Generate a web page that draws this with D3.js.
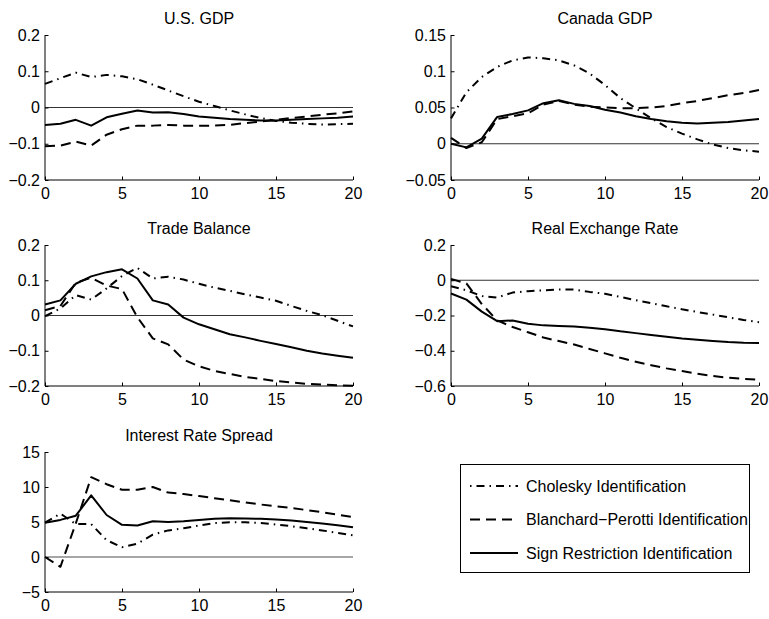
<!DOCTYPE html>
<html>
<head>
<meta charset="utf-8">
<script src="https://cdn.jsdelivr.net/npm/d3@7"></script>
<style>
  html, body { margin: 0; padding: 0; background: #fff; }
  svg text { font-family: "Liberation Sans", Arial, Helvetica, sans-serif; fill: #000; }
</style>
</head>
<body>
<svg id="chart" width="769" height="619"></svg>
<script>
// Impulse responses over a 20-quarter horizon, three identification schemes
const horizon = d3.range(0, 21);
const xTicks = [0, 5, 10, 15, 20];

const seriesNames = ["Cholesky Identification", "Blanchard\u2212Perotti Identification", "Sign Restriction Identification"];

// U.S. GDP
const usTitle = "U.S. GDP";
const usTicks = [-0.2, -0.1, 0, 0.1, 0.2];
const usCholesky  = [0.065, 0.081, 0.096, 0.084, 0.090, 0.086, 0.078, 0.063, 0.047, 0.031, 0.016, 0.004, -0.008, -0.019, -0.029, -0.037, -0.042, -0.045, -0.047, -0.046, -0.045];
const usBlanchard = [-0.107, -0.105, -0.094, -0.105, -0.075, -0.060, -0.050, -0.050, -0.048, -0.050, -0.050, -0.050, -0.048, -0.043, -0.039, -0.034, -0.029, -0.025, -0.020, -0.016, -0.011];
const usSign      = [-0.048, -0.045, -0.034, -0.050, -0.027, -0.017, -0.008, -0.014, -0.013, -0.018, -0.025, -0.028, -0.032, -0.034, -0.036, -0.036, -0.034, -0.032, -0.030, -0.028, -0.025];

// Canada GDP
const caTitle = "Canada GDP";
const caTicks = [-0.05, 0, 0.05, 0.1, 0.15];
const caCholesky  = [0.035, 0.071, 0.092, 0.106, 0.115, 0.119, 0.118, 0.115, 0.108, 0.097, 0.081, 0.063, 0.049, 0.035, 0.023, 0.014, 0.006, -0.001, -0.006, -0.009, -0.011];
const caBlanchard = [0.008, -0.006, 0.002, 0.034, 0.038, 0.042, 0.054, 0.059, 0.054, 0.051, 0.050, 0.049, 0.049, 0.050, 0.052, 0.056, 0.059, 0.063, 0.067, 0.070, 0.074];
const caSign      = [0.000, -0.005, 0.007, 0.037, 0.041, 0.046, 0.056, 0.060, 0.055, 0.052, 0.047, 0.043, 0.038, 0.034, 0.031, 0.029, 0.028, 0.029, 0.030, 0.032, 0.034];

// Trade balance
const tbTitle = "Trade Balance";
const tbTicks = [-0.2, -0.1, 0, 0.1, 0.2];
const tbCholesky  = [-0.002, 0.020, 0.058, 0.045, 0.077, 0.112, 0.135, 0.105, 0.110, 0.102, 0.090, 0.079, 0.070, 0.060, 0.051, 0.042, 0.027, 0.013, 0.001, -0.015, -0.031];
const tbBlanchard = [0.015, 0.027, 0.093, 0.107, 0.085, 0.075, -0.005, -0.065, -0.082, -0.125, -0.144, -0.157, -0.166, -0.174, -0.180, -0.186, -0.190, -0.194, -0.196, -0.198, -0.199];
const tbSign      = [0.031, 0.043, 0.090, 0.111, 0.123, 0.131, 0.105, 0.043, 0.031, -0.006, -0.025, -0.039, -0.053, -0.062, -0.072, -0.081, -0.090, -0.100, -0.108, -0.114, -0.120];

// Real exchange rate
const rerTitle = "Real Exchange Rate";
const rerTicks = [-0.6, -0.4, -0.2, 0, 0.2];
const rerCholesky  = [-0.034, -0.057, -0.090, -0.098, -0.070, -0.062, -0.057, -0.053, -0.053, -0.066, -0.077, -0.095, -0.113, -0.130, -0.148, -0.165, -0.180, -0.195, -0.210, -0.225, -0.238];
const rerBlanchard = [0.008, -0.018, -0.135, -0.228, -0.265, -0.295, -0.325, -0.345, -0.365, -0.390, -0.415, -0.440, -0.462, -0.482, -0.500, -0.515, -0.530, -0.543, -0.553, -0.560, -0.565];
const rerSign      = [-0.075, -0.110, -0.178, -0.232, -0.228, -0.247, -0.256, -0.259, -0.262, -0.270, -0.278, -0.290, -0.300, -0.310, -0.320, -0.330, -0.337, -0.344, -0.350, -0.354, -0.356];

// Interest rate spread
const irsTitle = "Interest Rate Spread";
const irsTicks = [-5, 0, 5, 10, 15];
const irsCholesky  = [4.9, 6.2, 4.7, 4.7, 2.4, 1.4, 1.9, 3.2, 3.8, 4.1, 4.5, 4.85, 4.95, 4.95, 4.85, 4.65, 4.4, 4.1, 3.8, 3.45, 3.1];
const irsBlanchard = [0.0, -1.4, 4.8, 11.4, 10.4, 9.6, 9.6, 10.0, 9.2, 9.0, 8.7, 8.4, 8.1, 7.8, 7.5, 7.25, 7.0, 6.7, 6.4, 6.05, 5.7];
const irsSign      = [4.9, 5.3, 5.9, 8.8, 6.0, 4.6, 4.5, 5.1, 5.0, 5.1, 5.3, 5.45, 5.55, 5.5, 5.45, 5.35, 5.2, 5.0, 4.8, 4.55, 4.25];

// line styles: Cholesky dash-dot, Blanchard-Perotti dashed, sign restriction solid
const lineStyles = [
  { dash: "8,5,1.5,5", offset: 13, width: 2 },
  { dash: "10,6", offset: 0, width: 2 },
  { dash: null, offset: 0, width: 2 }
];

const FONT = 16;
const svg = d3.select("#chart");

const panels = [
  { title: usTitle,  ticks: usTicks,  series: [usCholesky, usBlanchard, usSign],    box: [45, 353, 35, 180] },
  { title: caTitle,  ticks: caTicks,  series: [caCholesky, caBlanchard, caSign],    box: [451, 759, 35, 180] },
  { title: tbTitle,  ticks: tbTicks,  series: [tbCholesky, tbBlanchard, tbSign],    box: [45, 353, 245, 386] },
  { title: rerTitle, ticks: rerTicks, series: [rerCholesky, rerBlanchard, rerSign], box: [451, 759, 245, 386] },
  { title: irsTitle, ticks: irsTicks, series: [irsCholesky, irsBlanchard, irsSign], box: [45, 353, 452, 592] }
];

const fmt = v => String(+v.toFixed(4)).replace("-", "\u2212");

panels.forEach((p, pi) => {
  const [x0, x1, y0, y1] = p.box;
  const x = d3.scaleLinear().domain([0, 20]).range([x0, x1]);
  const y = d3.scaleLinear().domain([p.ticks[0], p.ticks[p.ticks.length - 1]]).range([y1, y0]);
  const g = svg.append("g");

  // zero reference line
  g.append("line")
    .attr("x1", x(0)).attr("x2", x(20))
    .attr("y1", y(0)).attr("y2", y(0))
    .attr("stroke", pi === 4 ? "#888" : "#333")
    .attr("stroke-width", pi === 4 ? 1.6 : 1);

  // response lines
  p.series.forEach((vals, i) => {
    const line = d3.line().x((d, k) => x(horizon[k])).y(d => y(d));
    g.append("path")
      .datum(vals)
      .attr("d", line)
      .attr("fill", "none")
      .attr("stroke", "#000")
      .attr("stroke-width", lineStyles[i].width)
      .attr("stroke-linejoin", "round")
      .attr("stroke-dasharray", lineStyles[i].dash);
  });

  // axes: inward ticks, left and bottom only
  const xAxis = d3.axisBottom(x).tickValues(xTicks).tickSize(-3.5).tickPadding(8).tickFormat(fmt);
  const yAxis = d3.axisLeft(y).tickValues(p.ticks).tickSize(-3.5).tickPadding(5).tickFormat(fmt);

  const gx = g.append("g").attr("transform", `translate(0,${y1})`).call(xAxis);
  const gy = g.append("g").attr("transform", `translate(${x0},0)`).call(yAxis);
  [gx, gy].forEach(a => {
    a.select(".domain").attr("stroke", "#000").attr("stroke-width", 1);
    a.selectAll(".tick line").attr("stroke", "#000");
    a.selectAll(".tick text").attr("font-size", FONT).attr("fill", "#000")
      .style("font-family", "'Liberation Sans', Arial, sans-serif");
  });
  gx.select(".domain").attr("d", `M${x0},0H${x1}`);
  gy.select(".domain").attr("d", `M0,${y1}V${y0}`);

  // panel title
  g.append("text")
    .attr("x", (x0 + x1) / 2)
    .attr("y", y0 - 11)
    .attr("text-anchor", "middle")
    .attr("font-size", FONT)
    .text(p.title);
});

// legend
const lg = svg.append("g");
lg.append("rect")
  .attr("x", 460.5).attr("y", 464.5).attr("width", 289).attr("height", 108)
  .attr("fill", "#fff").attr("stroke", "#000").attr("stroke-width", 1);
const legendY = d3.scalePoint().domain(seriesNames).range([486, 553]);
seriesNames.forEach((name, i) => {
  const yy = legendY(name);
  lg.append("line")
    .attr("x1", 470).attr("x2", 518).attr("y1", yy).attr("y2", yy)
    .attr("stroke", "#000").attr("stroke-width", lineStyles[i].width)
    .attr("stroke-dasharray", lineStyles[i].dash)
    .attr("stroke-dashoffset", lineStyles[i].offset);
  lg.append("text")
    .attr("x", 526).attr("y", yy)
    .attr("dy", "0.35em")
    .attr("font-size", FONT)
    .text(name);
});
</script>
</body>
</html>
